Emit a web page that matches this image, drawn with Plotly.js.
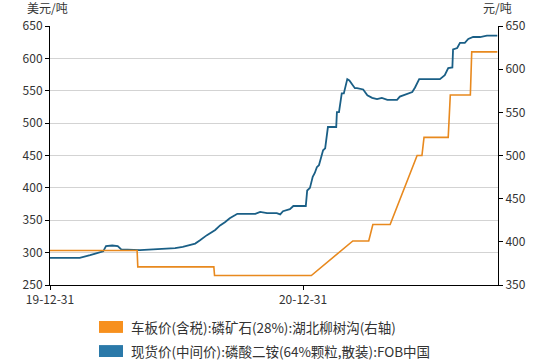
<!DOCTYPE html>
<html>
<head>
<meta charset="utf-8">
<script src="https://cdn.plot.ly/plotly-3.0.1.min.js"></script>
<style>html,body{margin:0;padding:0;background:#fff;}#chart{width:542px;height:364px;}</style>
</head>
<body>
<div id="chart"></div>
<script>
const seriesOrangeName = "车板价(含税):磷矿石(28%):湖北柳树沟(右轴)";
const seriesBlueName = "现货价(中间价):磷酸二铵(64%颗粒,散装):FOB中国";

const blueDates = ["2019-12-31","2020-02-12","2020-02-27","2020-03-12","2020-03-17","2020-03-21","2020-03-30","2020-04-07","2020-04-12","2020-05-09","2020-05-31","2020-06-29","2020-07-10","2020-07-21","2020-07-28","2020-08-04","2020-08-14","2020-08-26","2020-09-02","2020-09-09","2020-09-16","2020-09-24","2020-09-27","2020-10-23","2020-10-30","2020-11-09","2020-11-23","2020-11-28","2020-12-02","2020-12-12","2020-12-17","2021-01-04","2021-01-06","2021-01-10","2021-01-14","2021-01-17","2021-01-20","2021-01-23","2021-01-26","2021-01-29","2021-02-01","2021-02-05","2021-02-17","2021-02-18","2021-02-21","2021-02-25","2021-02-28","2021-03-05","2021-03-08","2021-03-16","2021-03-19","2021-03-28","2021-04-03","2021-04-10","2021-04-17","2021-04-24","2021-05-02","2021-05-16","2021-05-20","2021-05-30","2021-06-07","2021-06-11","2021-06-17","2021-07-17","2021-07-24","2021-07-29","2021-08-04","2021-08-05","2021-08-11","2021-08-15","2021-08-22","2021-08-27","2021-09-03","2021-09-13","2021-09-23","2021-10-08"];
const blueValues = [292,292,296,300,302,310,311,310,305,304,305,307,309,312,314,319,327,335,342,347,353,358,360,360,363,361,361,359,364,367,372,372,396,400,417,423,432,435,448,458,461,494,494,517,517,546,546,568,566,554,554,552,543,539,537,539,536,536,541,545,548,555,568,568,574,585,586,614,616,624,624,630,633,633,635,635];

const orangeDates = ["2019-12-31","2020-05-05","2020-05-06","2020-08-24","2020-08-25","2021-01-12","2021-03-13","2021-04-05","2021-04-11","2021-05-06","2021-06-14","2021-06-21","2021-06-24","2021-07-29","2021-08-01","2021-08-30","2021-09-01","2021-10-08"];
const orangeValues = [390,390,371,371,361,361,401,401,420,420,500,500,521,521,570,570,620,620];

const xTickVals = ["2019-12-31","2020-12-31"];
const xTickText = ["19-12-31","20-12-31"];
const leftTicks = [250,300,350,400,450,500,550,600,650];
const rightTicks = [350,400,450,500,550,600,650];

const orangeLine = "#E8891E", blueLine = "#1A5F86";
const orangeSwatch = "#F7901E", blueSwatch = "#2A79A9";
const font = {family: "Noto Sans CJK SC, sans-serif", size: 12, color: "#333"};
const legendFont = {family: "Noto Sans CJK SC, sans-serif", size: 13.5, color: "#333"};

const traces = [
  {x: orangeDates, y: orangeValues, type: "scatter", mode: "lines", yaxis: "y2",
   line: {color: orangeLine, width: 1.6}, name: seriesOrangeName, showlegend: false},
  {x: blueDates, y: blueValues, type: "scatter", mode: "lines",
   line: {color: blueLine, width: 1.8}, name: seriesBlueName, showlegend: false}
];

const layout = {
  width: 542, height: 364,
  margin: {l: 50, r: 44, t: 26, b: 79},
  paper_bgcolor: "#fff", plot_bgcolor: "#fff",
  font: font,
  showlegend: false,
  xaxis: {type: "date", range: ["2019-12-31", "2021-10-09"], tickvals: xTickVals, ticktext: xTickText,
    showgrid: false, showline: true, linecolor: "#000", linewidth: 1, ticks: "outside", ticklen: 4,
    tickcolor: "#000", zeroline: false, tickfont: font},
  yaxis: {range: [250, 650], tickvals: leftTicks, showgrid: true, gridcolor: "#d3d3d3", gridwidth: 1,
    showline: true, linecolor: "#000", linewidth: 1, ticks: "outside", ticklen: 4, tickcolor: "#000",
    zeroline: false, tickfont: font},
  yaxis2: {range: [350, 650], tickvals: rightTicks, overlaying: "y", side: "right", showgrid: false,
    showline: true, linecolor: "#000", linewidth: 1, ticks: "outside", ticklen: 4, tickcolor: "#000",
    zeroline: false, tickfont: font},
  shapes: [
    {type: "rect", xref: "paper", yref: "paper", x0: 0.1094, x1: 0.1629, y0: -0.139, y1: -0.185,
     fillcolor: orangeSwatch, line: {width: 0}},
    {type: "rect", xref: "paper", yref: "paper", x0: 0.1094, x1: 0.1629, y0: -0.232, y1: -0.278,
     fillcolor: blueSwatch, line: {width: 0}}
  ],
  annotations: [
    {text: "美元/吨", xref: "paper", yref: "paper", x: 0.045, y: 1.07, xanchor: "right", yanchor: "middle",
     showarrow: false, font: font},
    {text: "元/吨", xref: "paper", yref: "paper", x: 0.999, y: 1.07, xanchor: "center", yanchor: "middle",
     showarrow: false, font: font},
    {text: seriesOrangeName, xref: "paper", yref: "paper", x: 0.176, y: -0.162, xanchor: "left", yanchor: "middle",
     showarrow: false, font: legendFont},
    {text: seriesBlueName, xref: "paper", yref: "paper", x: 0.176, y: -0.255, xanchor: "left", yanchor: "middle",
     showarrow: false, font: legendFont}
  ]
};

Plotly.newPlot("chart", traces, layout, {displayModeBar: false, staticPlot: true});
</script>
</body>
</html>
